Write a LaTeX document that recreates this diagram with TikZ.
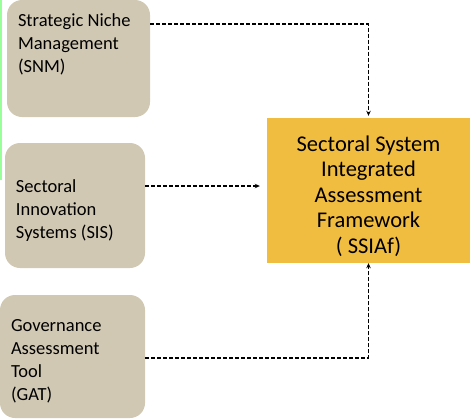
\documentclass[tikz,border=0pt]{standalone}
\usepackage{fontspec}
\setmainfont{Carlito}
\usepackage{xcolor}
\usepackage{tikz}
\usetikzlibrary{positioning,arrows.meta}
\definecolor{sand}{RGB}{208,200,179}
\definecolor{gold}{RGB}{241,189,65}
\newcommand{\lift}[1]{\rule{0pt}{#1}}

\begin{document}
\begin{tikzpicture}[x=1pt, y=-1pt,
  side/.style={fill=sand, rounded corners=15pt, inner xsep=11pt, align=flush left, font=\fontsize{18.5}{23}\selectfont},
  core/.style={fill=gold, align=center, font=\fontsize{22.5}{25.5}\selectfont},
  flow/.style={line width=1.1pt, dash pattern=on 4pt off 2pt, -{Stealth[length=5pt,width=4.5pt]}}]
\useasboundingbox (0,0) rectangle (470,418);
\draw[green!40!white, line width=1.5pt] (1,0) -- (1,180);
\node[side, minimum width=143pt, minimum height=117pt, text width=121pt] (snm) at (78.5,58.5) {\lift{22pt}Strategic Niche\\Management\\(SNM)\\[17pt]\mbox{}};
\node[side, minimum width=140pt, minimum height=125pt, text width=118pt] (sis) at (75,205.5) {\lift{22pt}Sectoral\\Innovation\\Systems (SIS)};
\node[side, minimum width=145pt, minimum height=123pt, text width=123pt] (gat) at (72.5,356.5) {\lift{22pt}Governance\\Assessment\\Tool\\(GAT)};
\node[core, minimum width=203pt, minimum height=145pt] (ssiaf) at (368.5,190.5) {\lift{27pt}Sectoral System\\Integrated\\Assessment\\Framework\\( SSIAf)};
\draw[flow, shorten >=2pt] ([yshift=34.5pt]snm.east) -| (ssiaf.north);
\draw[flow, shorten >=7pt] ([yshift=19.5pt]sis.east) -- ([yshift=4.5pt]ssiaf.west);
\draw[flow] ([yshift=-1.5pt]gat.east) -| (ssiaf.south);
\end{tikzpicture}
\end{document}
